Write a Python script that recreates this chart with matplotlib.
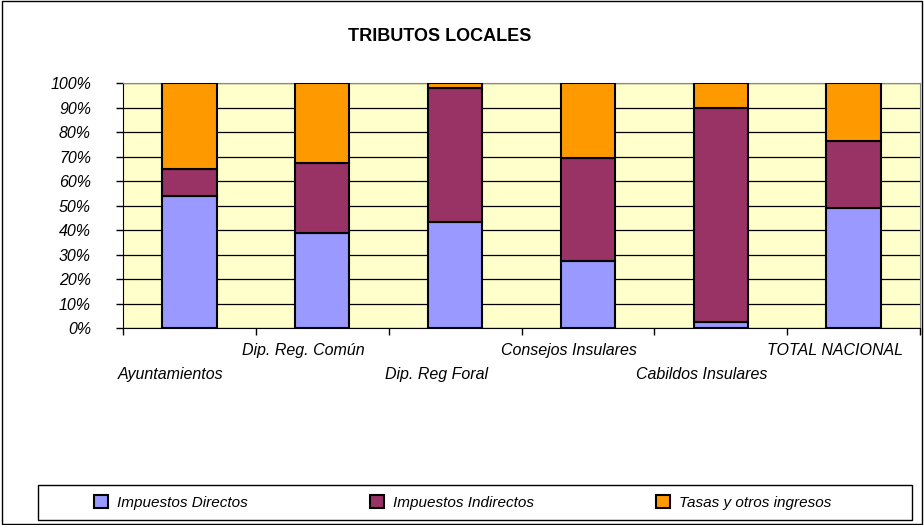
import matplotlib
matplotlib.use("Agg")
import matplotlib.pyplot as plt
import matplotlib.transforms as mtransforms
from matplotlib.patches import Rectangle
import numpy as np

# ── DATOS ─────────────────────────────────────
categorias = ["Ayuntamientos", "Dip. Reg. Común", "Dip. Reg Foral",
              "Consejos Insulares", "Cabildos Insulares", "TOTAL NACIONAL"]
directos   = [54.0, 38.8, 43.4, 27.3, 2.6, 49.0]
indirectos = [10.9, 28.5, 54.4, 42.0, 87.1, 27.4]
tasas      = [35.1, 32.7, 2.2, 30.7, 10.3, 23.6]
series     = ["Impuestos Directos", "Impuestos Indirectos", "Tasas y otros ingresos"]

CLR_DIR = "#9999FF"
CLR_IND = "#993366"
CLR_TAS = "#FF9900"
CLR_BG  = "#FFFFCC"

plt.rcParams["font.family"] = ["Liberation Sans", "DejaVu Sans"]

fig = plt.figure(figsize=(9.24, 5.25), dpi=100)
fig.patch.set_facecolor("white")
fig.patches.append(Rectangle((0.002, 0.002), 0.996, 0.996, transform=fig.transFigure,
                             fill=False, edgecolor="black", linewidth=1))

ax = fig.add_axes([0.1331, 0.3752, 0.8626, 0.4667])
ax.set_facecolor(CLR_BG)

x = np.arange(len(categorias))
w = 0.41
bottom2 = np.array(directos) + np.array(indirectos)
b1 = ax.bar(x, directos, w, color=CLR_DIR, edgecolor="black", linewidth=1.5, zorder=3)
b2 = ax.bar(x, indirectos, w, bottom=directos, color=CLR_IND, edgecolor="black", linewidth=1.5, zorder=3)
b3 = ax.bar(x, tasas, w, bottom=bottom2, color=CLR_TAS, edgecolor="black", linewidth=1.5, zorder=3)

ax.set_xlim(-0.5, len(categorias) - 0.5)
ax.set_ylim(0, 100)
ax.set_yticks(np.arange(0, 101, 10))
ax.set_yticklabels([f"{v}%" for v in range(0, 101, 10)], fontsize=11.5, style="italic")
ax.yaxis.grid(True, color="black", linewidth=0.9, zorder=0)
ax.tick_params(axis="y", length=5, width=1, pad=18)

# ticks at category boundaries, labels staggered
ax.set_xticks(np.arange(-0.5, len(categorias), 1.0))
ax.set_xticklabels([])
ax.tick_params(axis="x", length=5, width=1, direction="out")
ax.set_xticks(x, minor=True)
etiquetas = [c if i % 2 == 1 else "\n" + c for i, c in enumerate(categorias)]
ax.set_xticklabels(etiquetas, minor=True, fontsize=11.5, style="italic", linespacing=1.7)
ax.tick_params(axis="x", which="minor", length=0, pad=11)
shift = mtransforms.ScaledTranslation(-19 / 100, 0, fig.dpi_scale_trans)
for lbl in ax.get_xticklabels(minor=True):
    lbl.set_transform(lbl.get_transform() + shift)

for s in ["top", "right"]:
    ax.spines[s].set_color("#888888")
for s in ["left", "bottom"]:
    ax.spines[s].set_color("black")

fig.text(0.476, 0.93, "TRIBUTOS LOCALES", ha="center", va="center",
         fontsize=13, fontweight="bold")

# legend: frame drawn apart, entries centred inside
fig.patches.append(Rectangle((38 / 924, 5 / 525), 874 / 924, 35 / 525, transform=fig.transFigure,
                             fill=False, edgecolor="black", linewidth=1))
leg = fig.legend([b1, b2, b3], series, loc="center", ncol=3,
                 bbox_to_anchor=(463 / 924, 22.5 / 525),
                 frameon=False, prop={"size": 11, "style": "italic"},
                 handlelength=0.9, handleheight=0.9, handletextpad=0.6,
                 borderaxespad=0, columnspacing=8.0)

plt.savefig("out.png", dpi=100, facecolor="white")
